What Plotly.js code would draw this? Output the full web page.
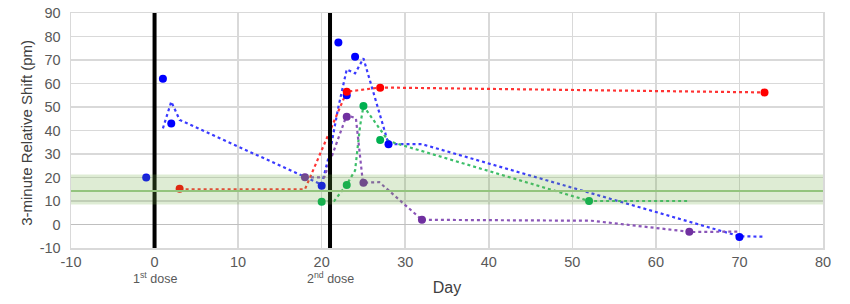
<!DOCTYPE html>
<html>
<head>
<meta charset="utf-8">
<script src="https://cdn.plot.ly/plotly-3.0.1.min.js"></script>
<style>html,body{margin:0;padding:0;background:#fff;}#chart{width:850px;height:304px;}</style>
</head>
<body>
<div id="chart"></div>
<script>
// Measured points (markers)
const blueDays = [-1, 1, 2, 20, 22, 23, 24, 28, 70];
const blueVals = [20, 62, 43, 16.5, 77.4, 55, 71.4, 34.1, -5.3];
const redDays = [3, 23, 27, 73];
const redVals = [15.2, 56.5, 58.2, 56.2];
const greenDays = [20, 23, 25, 27, 52];
const greenVals = [9.7, 16.8, 50.4, 36, 10];
const purpleDays = [18, 23, 25, 32, 64];
const purpleVals = [20.1, 45.9, 17.8, 2, -3.1];

// Dotted trend lines
const blueTrendDays = [1, 2, 3, 20, 21, 22, 23, 24, 25, 28, 32, 70, 73];
const blueTrendVals = [40.9, 52.3, 44.5, 17, 31, 50, 66, 64.3, 70.7, 34.2, 34.2, -5, -5.2];
const redTrendDays = [3, 18, 23, 27, 73];
const redTrendVals = [15, 15, 56.5, 58.3, 56.2];
const greenTrendDays = [20, 21.5, 23, 24, 24.6, 25, 28, 52, 64];
const greenTrendVals = [9.7, 10, 17, 23, 42, 50.4, 35.5, 10, 10];
const purpleTrendDays = [18, 20.3, 23, 24.1, 24.9, 25, 26.9, 32, 52.3, 64.3, 69.9];
const purpleTrendVals = [20.1, 20, 46.6, 45.2, 19, 17.8, 18, 2, 1.6, -3.2, -3];

// Reference band and dose days
const bandLow = 8.5, bandHigh = 21.3, bandMean = 14.3;
const doseDays = [0, 21];
const doseLabels = ['1<sup>st</sup> dose', '2<sup>nd</sup> dose'];
const xTicks = [-10, 0, 10, 20, 30, 40, 50, 60, 70, 80];
const yTicks = [-10, 0, 10, 20, 30, 40, 50, 60, 70, 80, 90];

const F = 'Liberation Sans, Arial, sans-serif';
function trend(x, y, c) {
  return {x: x, y: y, mode: 'lines', type: 'scatter', hoverinfo: 'skip',
    line: {color: c, width: 2.2, dash: 'dot'}, showlegend: false};
}
function pts(x, y, c) {
  return {x: x, y: y, mode: 'markers', type: 'scatter',
    marker: {color: c, size: 8}, showlegend: false};
}
const data = [
  trend(blueTrendDays, blueTrendVals, '#3a3aff'),
  trend(redTrendDays, redTrendVals, '#ff3333'),
  trend(greenTrendDays, greenTrendVals, '#3cbf6a'),
  trend(purpleTrendDays, purpleTrendVals, '#8a55b8'),
  pts(blueDays, blueVals, '#0000ff'),
  pts(redDays, redVals, '#ff0000'),
  pts(greenDays, greenVals, '#00b050'),
  pts(purpleDays, purpleVals, '#7030a0')
];

const shapes = doseDays.map(d => ({type: 'line', xref: 'x', yref: 'paper', x0: d, x1: d, y0: 0, y1: 1,
  line: {color: '#000', width: 4}, layer: 'above'}));
shapes.push({type: 'rect', xref: 'paper', yref: 'y', x0: 0, x1: 1, y0: bandLow, y1: bandHigh,
  fillcolor: 'rgba(112,173,71,0.23)', line: {width: 0}, layer: 'above'});
shapes.push({type: 'line', xref: 'paper', yref: 'y', x0: 0, x1: 1, y0: bandMean, y1: bandMean,
  line: {color: '#93c47d', width: 2}, layer: 'above'});

const annotations = doseDays.map((d, i) => ({x: d, y: -0.128, xref: 'x', yref: 'paper',
  text: doseLabels[i], showarrow: false, xanchor: 'center', yanchor: 'middle',
  font: {family: F, size: 12.5, color: '#595959'}}));
annotations.push({x: -0.0585, y: 0.49, xref: 'paper', yref: 'paper', xanchor: 'center', yanchor: 'middle',
  text: '3-minute Relative Shift (pm)', textangle: -90, showarrow: false,
  font: {family: F, size: 15, color: '#404040'}});

const layout = {
  width: 850, height: 304,
  margin: {l: 71, r: 27, t: 13, b: 56},
  paper_bgcolor: '#fff', plot_bgcolor: '#fff',
  showlegend: false,
  xaxis: {range: [-10, 80], tickvals: xTicks, ticktext: xTicks.map(String), showgrid: true,
    gridcolor: '#d9d9d9', gridwidth: 1.5, zeroline: false, showline: true, mirror: true,
    linecolor: '#d9d9d9', linewidth: 1.5, ticks: '', fixedrange: true,
    tickfont: {family: F, size: 14.5, color: '#595959'},
    title: {text: 'Day', font: {family: F, size: 16, color: '#404040'}, standoff: 13}},
  yaxis: {range: [-10, 90], tickvals: yTicks, ticktext: yTicks.map(String), showgrid: true,
    gridcolor: '#d9d9d9', gridwidth: 1.5, zeroline: true, zerolinecolor: '#bfbfbf', zerolinewidth: 1.5,
    showline: true, mirror: true, linecolor: '#d9d9d9', linewidth: 1.5, ticks: '',
    ticklabelstandoff: 6, fixedrange: true,
    tickfont: {family: F, size: 14.5, color: '#595959'}},
  shapes: shapes,
  annotations: annotations
};
Plotly.newPlot('chart', data, layout, {displayModeBar: false, staticPlot: true});
</script>
</body>
</html>
